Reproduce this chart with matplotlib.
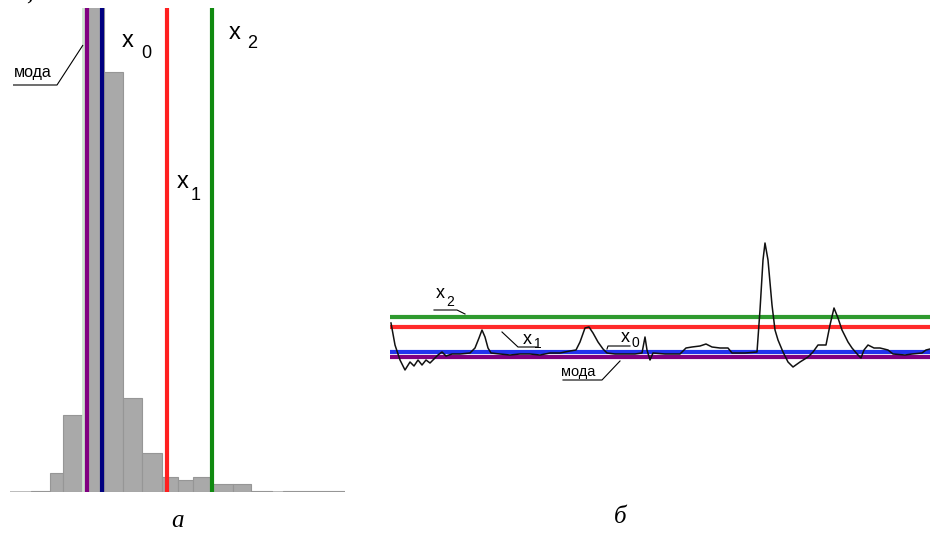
"""
Histogram of a signal with mode / x0 / x1 / x2 levels (a)
and the same levels drawn over the signal itself (б).
Output: out.png
"""
import matplotlib
matplotlib.use("Agg")
import matplotlib.pyplot as plt
import numpy as np

# ── Panel (a): histogram ──────────────────────────────────────────────────────
HIST_EDGES  = [31, 50, 63, 83, 104, 123, 142, 162, 178, 193, 212, 233, 251, 272, 283, 345]
HIST_COUNTS = [1, 19, 77, 520, 420, 94, 39, 15, 12, 15, 8, 8, 1, 0, 1]

# level positions on the histogram value axis
A_MODE, A_X0, A_X1, A_X2 = 87, 102, 167, 212
A_EDGE = 83   # pale left edge of the tallest bin

# ── Panel (б): signal and levels ─────────────────────────────────────────────
SIG_X = [1, 5, 10, 15, 20, 24, 28, 32, 36, 40, 45, 48, 52, 56, 62, 70, 80, 85, 89,
         92, 95, 98, 101, 110, 120, 130, 140, 150, 160, 170, 180, 186, 190, 195,
         199, 203, 208, 213, 217, 225, 235, 245, 252, 255, 257, 260, 263, 275,
         290, 296, 302, 310, 316, 322, 330, 338, 342, 355, 367, 370, 373, 375,
         378, 382, 385, 388, 393, 398, 403, 410, 418, 423, 428, 436, 440, 444,
         448, 452, 458, 462, 468, 471, 474, 478, 484, 490, 498, 503, 515, 522,
         532, 536, 540]
SIG_Y = [34, 12, -3, -13, -5, -9, -3, -8, -3, -6, -1, 2, 5, 1, 3, 3, 4, 9, 19,
         27, 20, 9, 4, 3, 2, 3, 3, 2, 4, 4, 6, 7, 15, 29,
         30, 24, 15, 8, 4, 3, 3, 3, 4, 20, 7, -3, 4, 3,
         3, 9, 10, 11, 13, 10, 9, 9, 4, 4, 5, 47, 97, 114,
         97, 52, 27, 17, 5, -5, -10, -5, 0, 5, 12, 12, 32, 49,
         39, 27, 15, 9, 2, -1, 7, 12, 9, 9, 7, 3, 2, 3,
         4, 7, 8]

B_MODE, B_X0, B_X1, B_X2 = 0, 5, 30, 40

BAR   = "#a9a9a9"
FONT  = "Liberation Sans"
SERIF = "Liberation Serif"

fig = plt.figure(figsize=(9.3, 5.33), dpi=100)
fig.patch.set_facecolor("white")

# ─── Panel (a) ───────────────────────────────────────────────────────────────
ax1 = fig.add_axes([10 / 930, 41 / 533, 335 / 930, 484 / 533])
ax1.set_xlim(10, 345)
ax1.set_ylim(0, 484)
ax1.axis("off")

widths = np.diff(HIST_EDGES)
ax1.bar(HIST_EDGES[:-1], HIST_COUNTS, width=widths, align="edge",
        color=BAR, edgecolor="#969696", linewidth=0.8, zorder=2)
ax1.axhline(0, color="#b0b0b0", linewidth=1.2, zorder=1)

ax1.axvline(A_EDGE, color="#cfe3cf", linewidth=2.0, zorder=3)
ax1.axvline(A_MODE, color="#800080", linewidth=3.0, zorder=4)
ax1.axvline(A_X0,   color="#000080", linewidth=3.0, zorder=4)
ax1.axvline(A_X1,   color="#ff1f1f", linewidth=3.0, zorder=4)
ax1.axvline(A_X2,   color="#108a10", linewidth=3.0, zorder=4)

# labels (y = height above baseline)
ax1.text(128, 451, "x", fontsize=17, family=FONT, ha="center", va="center")
ax1.text(146, 438, "0", fontsize=13, family=FONT, ha="center", va="center")
ax1.text(183, 310, "x", fontsize=17, family=FONT, ha="center", va="center")
ax1.text(196, 297, "1", fontsize=13, family=FONT, ha="center", va="center")
ax1.text(235, 459, "x", fontsize=17, family=FONT, ha="center", va="center")
ax1.text(252, 448, "2", fontsize=13, family=FONT, ha="center", va="center")

ax1.text(33, 419, "мода", fontsize=11.5, family=FONT, ha="center", va="center")
ax1.plot([13, 57, 83], [407, 407, 447], color="black", linewidth=0.8,
         solid_capstyle="butt", zorder=5)

# ─── Panel (б) ───────────────────────────────────────────────────────────────
ax2 = fig.add_axes([390 / 930, 133 / 533, 540 / 930, 170 / 533])
ax2.set_xlim(0, 540)
ax2.set_ylim(-43, 127)
ax2.axis("off")

ax2.axhline(B_X2,   color="#2f9a2f", linewidth=3.0, zorder=2)
ax2.axhline(B_X1,   color="#ff2a2a", linewidth=3.0, zorder=2)
ax2.axhline(B_X0,   color="#2233ee", linewidth=3.0, zorder=2)
ax2.axhline(B_MODE, color="#800080", linewidth=3.0, zorder=2)

ax2.plot(SIG_X, SIG_Y, color="#111111", linewidth=1.1, zorder=3)

# x2 label
ax2.text(50, 64, "x", fontsize=13, family=FONT, ha="center", va="center")
ax2.text(60, 55, "2", fontsize=10, family=FONT, ha="center", va="center")
ax2.plot([44, 67, 75], [47, 47, 43], color="black", linewidth=0.8)
# x1 label
ax2.text(137, 18, "x", fontsize=13, family=FONT, ha="center", va="center")
ax2.text(148, 13, "1", fontsize=10, family=FONT, ha="center", va="center")
ax2.plot([112, 128, 147], [25, 10, 10], color="black", linewidth=0.8)
# x0 label
ax2.text(235, 19, "x", fontsize=13, family=FONT, ha="center", va="center")
ax2.text(245, 14, "0", fontsize=10, family=FONT, ha="center", va="center")
ax2.plot([217, 218, 240], [8, 11, 11], color="black", linewidth=0.8)
# mode label
ax2.text(188, -15, "мода", fontsize=10.5, family=FONT, ha="center", va="center")
ax2.plot([173, 212, 230], [-23, -23, -4], color="black", linewidth=0.8)

# ─── Captions ────────────────────────────────────────────────────────────────
fig.text(177 / 930, 1 - 521 / 533, "а", fontsize=18, family=SERIF,
         style="italic", ha="center", va="center")
fig.text(620 / 930, 1 - 517 / 533, "б", fontsize=18, family=SERIF,
         style="italic", ha="center", va="center")
# cut-off line of the surrounding text
fig.text(0.0, 1 - 5 / 533, "и 2, б.", fontsize=15, family=SERIF,
         fontweight="bold", ha="left", va="bottom")

fig.savefig("out.png", dpi=100, facecolor="white")
plt.close(fig)
